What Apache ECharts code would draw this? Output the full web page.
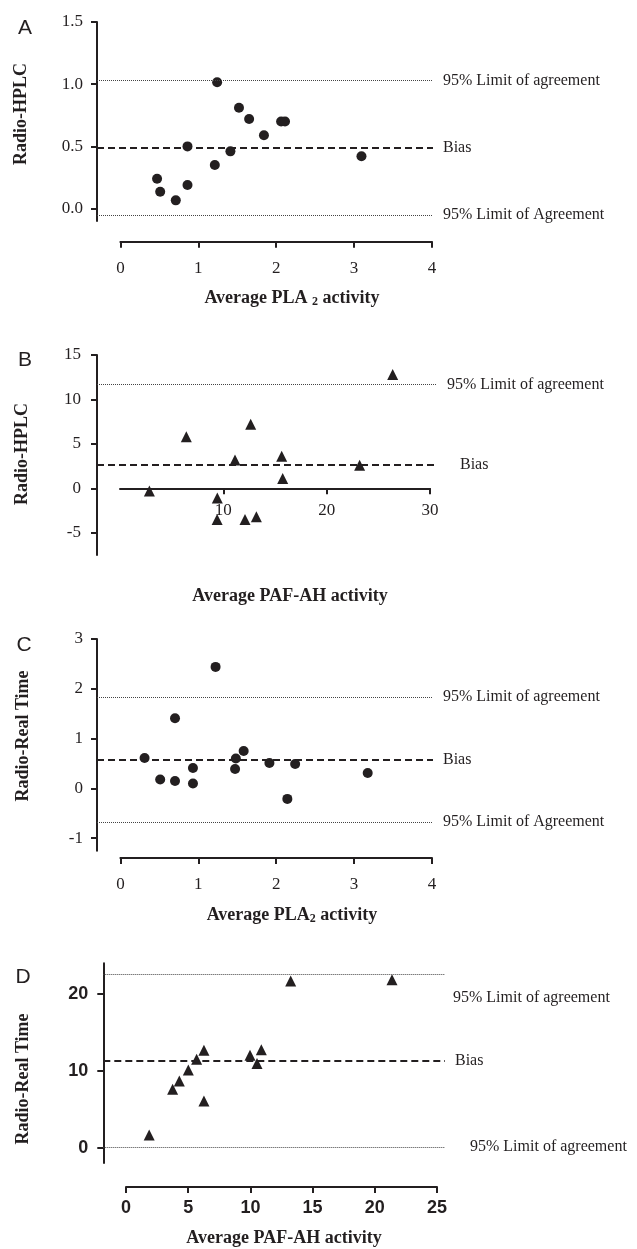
<!DOCTYPE html>
<html lang="en">
<head>
<meta charset="UTF-8">
<title>Bland-Altman</title>
<script src="https://cdn.jsdelivr.net/npm/echarts@6.0.0/dist/echarts.min.js"></script>
<style>
  html, body { margin: 0; padding: 0; background: #fff; }
  #chart { width: 637px; height: 1249px; }
</style>
</head>
<body>
<div id="chart"></div>
<script>
// A: Radio-HPLC vs average PLA2 activity
var avgA  = [1.24, 1.52, 1.65, 2.06, 2.11, 1.84, 0.86, 1.41, 3.09, 1.21, 0.47, 0.86, 0.51, 0.71];
var diffA = [1.015, 0.81, 0.72, 0.70, 0.70, 0.59, 0.50, 0.46, 0.42, 0.35, 0.24, 0.19, 0.135, 0.066];
var limitsA = [1.03, 0.49, -0.05];   // upper, bias, lower

// B: Radio-HPLC vs average PAF-AH activity
var avgB  = [26.4, 12.65, 6.42, 11.13, 15.65, 23.2, 2.84, 15.75, 9.42, 9.4, 12.1, 13.2];
var diffB = [12.8, 7.2, 5.8, 3.2, 3.6, 2.6, -0.3, 1.1, -1.1, -3.5, -3.5, -3.2];
var limitsB = [11.7, 2.62, -7.6];

// C: Radio-Real Time vs average PLA2 activity
var avgC  = [1.22, 0.70, 1.58, 0.31, 1.48, 1.91, 2.24, 0.93, 1.47, 3.17, 0.51, 0.70, 0.93, 2.14];
var diffC = [2.44, 1.41, 0.75, 0.61, 0.60, 0.51, 0.49, 0.41, 0.39, 0.31, 0.18, 0.15, 0.10, -0.21];
var limitsC = [1.83, 0.58, -0.67];

// D: Radio-Real Time vs average PAF-AH activity
var avgD  = [13.24, 21.38, 6.27, 10.88, 9.97, 5.68, 10.53, 5.01, 4.29, 3.75, 6.27, 1.87];
var diffD = [21.7, 21.85, 12.69, 12.73, 12.03, 11.51, 10.95, 10.12, 8.68, 7.6, 6.08, 1.64];
var limitsD = [22.6, 11.3, 0.1];

var ticksA = [0, 0.5, 1, 1.5];
var ticksB = [-5, 0, 5, 10, 15];
var ticksC = [-1, 0, 1, 2, 3];
var ticksD = [0, 10, 20];
var xTicksB = [10, 20, 30];

var INK = '#231f20';
var SERIF = '"Liberation Serif", "DejaVu Serif", serif';
var SANS = '"Liberation Sans", Arial, sans-serif';

var chart = echarts.init(document.getElementById('chart'));

var grids = [], xAxes = [], yAxes = [], series = [], texts = [];

function zip(xs, ys) {
    return xs.map(function (x, i) { return [x, ys[i]]; });
}

function limitLines(lim, labels, dists) {
    var styles = [
        { type: 'dotted', width: 1, color: '#444' },
        { type: [7, 4], width: 2, color: INK },
        { type: 'dotted', width: 1, color: '#444' }
    ];
    return lim.map(function (v, i) {
        return {
            yAxis: v,
            lineStyle: styles[i],
            label: { formatter: labels[i], distance: dists[i] }
        };
    });
}

function addPanel(p) {
    var gi = grids.length;
    // main plotting area
    grids.push(p.grid);
    xAxes.push({ gridIndex: gi, type: 'value', min: p.xRange[0], max: p.xRange[1], show: false });
    yAxes.push({
        gridIndex: gi, type: 'value', min: p.yRange[0], max: p.yRange[1],
        splitLine: { show: false },
        axisLine: { show: true, onZero: false, lineStyle: { color: INK, width: 2 } },
        axisTick: { show: true, length: 6, lineStyle: { color: INK, width: 2 }, customValues: p.yTicks },
        axisLabel: {
            customValues: p.yTicks, margin: p.yLabelMargin, color: INK,
            fontFamily: p.yFont, fontSize: p.yFontSize, fontWeight: p.yFontWeight,
            formatter: p.yFormat
        }
    });
    // stand-alone x axis
    grids.push(p.xGrid);
    xAxes.push({
        gridIndex: gi + 1, type: 'value', min: p.xAxisRange[0], max: p.xAxisRange[1],
        position: 'bottom',
        splitLine: { show: false },
        axisLine: { show: true, onZero: false, lineStyle: { color: INK, width: 2 } },
        axisTick: { show: true, length: 6, lineStyle: { color: INK, width: 2 }, customValues: p.xTicks },
        axisLabel: {
            customValues: p.xTicks, margin: p.xLabelMargin, color: INK,
            fontFamily: p.xFont, fontSize: p.xFontSize, fontWeight: p.xFontWeight
        }
    });
    yAxes.push({ gridIndex: gi + 1, type: 'value', min: 0, max: 1, show: false });

    series.push({
        type: 'scatter',
        xAxisIndex: gi, yAxisIndex: gi,
        symbol: p.symbol, symbolSize: p.symbolSize,
        itemStyle: { color: INK, opacity: 1 },
        data: zip(p.x, p.y),
        markLine: {
            silent: true, symbol: ['none', 'none'], animation: false,
            label: { position: 'end', color: INK, fontFamily: SERIF, fontSize: 16, lineHeight: 24 },
            data: limitLines(p.limits, p.limitLabels, p.labelDist)
        }
    });
}

addPanel({
    grid: { left: 97, top: 22, width: 336, height: 199 },
    xRange: [-0.3, 4.007], yRange: [-0.1, 1.5],
    yTicks: ticksA, yLabelMargin: 14, yFont: SERIF, yFontSize: 17, yFontWeight: 'normal',
    yFormat: function (v) { return v.toFixed(1); },
    xGrid: { left: 120.4, top: 236.7, width: 311.6, height: 5 },
    xAxisRange: [0, 4], xTicks: [0, 1, 2, 3, 4], xLabelMargin: 18,
    xFont: SERIF, xFontSize: 17, xFontWeight: 'normal',
    symbol: 'circle', symbolSize: 10, x: avgA, y: diffA,
    limits: limitsA,
    limitLabels: ['95% Limit of agreement', 'Bias', '95% Limit of Agreement'],
    labelDist: [10, 10, 10]
});

addPanel({
    grid: { left: 97, top: 355, width: 340, height: 200 },
    xRange: [-2.23, 30.69], yRange: [-7.5, 15],
    yTicks: ticksB, yLabelMargin: 16, yFont: SERIF, yFontSize: 17, yFontWeight: 'normal',
    yFormat: function (v) { return String(v); },
    xGrid: { left: 120, top: 480, width: 310, height: 8.3 },
    xAxisRange: [0, 30], xTicks: xTicksB, xLabelMargin: 14,
    xFont: SERIF, xFontSize: 17, xFontWeight: 'normal',
    symbol: 'triangle', symbolSize: 11, x: avgB, y: diffB,
    limits: limitsB,
    limitLabels: ['95% Limit of agreement', 'Bias', '95% Limit of agreement'],
    labelDist: [10, 23, 14]
});

addPanel({
    grid: { left: 97, top: 639, width: 336, height: 211.7 },
    xRange: [-0.3, 4.007], yRange: [-1.25, 3],
    yTicks: ticksC, yLabelMargin: 14, yFont: SERIF, yFontSize: 17, yFontWeight: 'normal',
    yFormat: function (v) { return String(v); },
    xGrid: { left: 120.4, top: 853, width: 311.6, height: 5 },
    xAxisRange: [0, 4], xTicks: [0, 1, 2, 3, 4], xLabelMargin: 18,
    xFont: SERIF, xFontSize: 17, xFontWeight: 'normal',
    symbol: 'circle', symbolSize: 10, x: avgC, y: diffC,
    limits: limitsC,
    limitLabels: ['95% Limit of agreement', 'Bias', '95% Limit of Agreement'],
    labelDist: [10, 10, 10]
});

addPanel({
    grid: { left: 103.3, top: 963.3, width: 341.7, height: 199.7 },
    xRange: [-1.82, 25.64], yRange: [-2, 24],
    yTicks: ticksD, yLabelMargin: 15, yFont: SANS, yFontSize: 18, yFontWeight: 'bold',
    yFormat: function (v) { return String(v); },
    xGrid: { left: 126, top: 1182, width: 311, height: 5 },
    xAxisRange: [0, 25], xTicks: [0, 5, 10, 15, 20, 25], xLabelMargin: 12,
    xFont: SANS, xFontSize: 18, xFontWeight: 'bold',
    symbol: 'triangle', symbolSize: 11, x: avgD, y: diffD,
    limits: limitsD,
    // upper label sits one line below its line in the original
    limitLabels: ['\n\n95% Limit of agreement', 'Bias', '95% Limit of agreement'],
    labelDist: [8, 10, 25]
});

// panel letters, axis titles
function label(x, y, text, font, opts) {
    var el = {
        type: 'text', x: x, y: y, silent: true,
        style: Object.assign({ text: text, fill: INK, font: font, align: 'center', verticalAlign: 'middle' }, opts && opts.style)
    };
    if (opts && opts.rotation) el.rotation = opts.rotation;
    texts.push(el);
}

var richTitle = {
    b: { fontFamily: SERIF, fontWeight: 'bold', fontSize: 18, fill: INK },
    s: { fontFamily: SERIF, fontWeight: 'bold', fontSize: 12, fill: INK, padding: [8, 0, 0, 0] }
};

['A', 'B', 'C', 'D'].forEach(function (t, i) {
    var pos = [[25, 28], [25, 360], [24, 645], [23, 977]][i];
    label(pos[0], pos[1], t, '21px ' + SANS);
});

label(21, 114, 'Radio-HPLC', 'bold 18px ' + SERIF, { rotation: Math.PI / 2 });
label(22, 454, 'Radio-HPLC', 'bold 18px ' + SERIF, { rotation: Math.PI / 2 });
label(23, 736, 'Radio-Real Time', 'bold 18px ' + SERIF, { rotation: Math.PI / 2 });
label(23, 1079, 'Radio-Real Time', 'bold 18px ' + SERIF, { rotation: Math.PI / 2 });

label(292, 298, '{b|Average PLA }{s|2}{b| activity}', 'bold 18px ' + SERIF, { style: { rich: richTitle } });
label(290, 596, 'Average PAF-AH activity', 'bold 18px ' + SERIF);
label(292, 915, '{b|Average PLA}{s|2}{b| activity}', 'bold 18px ' + SERIF, { style: { rich: richTitle } });
label(284, 1238, 'Average PAF-AH activity', 'bold 18px ' + SERIF);

chart.setOption({
    animation: false,
    backgroundColor: '#fff',
    grid: grids,
    xAxis: xAxes,
    yAxis: yAxes,
    series: series,
    graphic: texts
});
</script>
</body>
</html>
